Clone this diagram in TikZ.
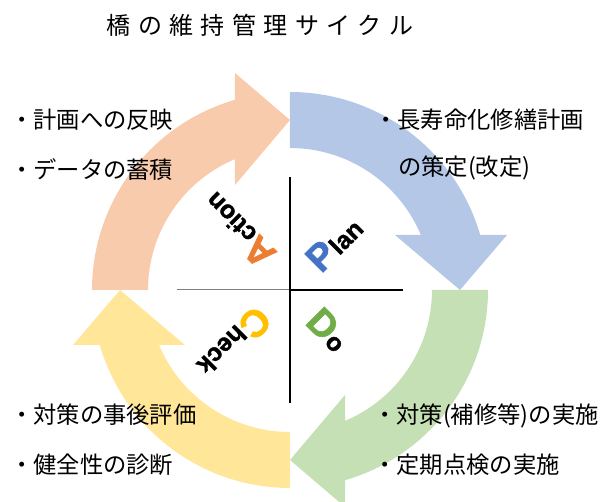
\documentclass[tikz,border=0pt]{standalone}
\usepackage{fontspec}
\newfontfamily\jpfont{Noto Sans CJK JP}
\newfontfamily\latfont[BoldFeatures={FakeBold=1.5}]{Liberation Sans}
\definecolor{arrOrange}{HTML}{F8CBAD}
\definecolor{arrBlue}{HTML}{B4C7E7}
\definecolor{arrGreen}{HTML}{C5E0B4}
\definecolor{arrYellow}{HTML}{FFE699}
\definecolor{letP}{HTML}{4472C4}
\definecolor{letA}{HTML}{ED7D31}
\definecolor{letD}{HTML}{70AD47}
\definecolor{letC}{HTML}{FFC000}
\newcommand\cyclearrow[2]{%
  \begin{scope}[rotate=#1]
    \fill[#2] (90:198) arc[start angle=90, end angle=16.13, radius=198]
      -- (217,55) -- (170,0) -- (105,55) -- (22.79:142)
      arc[start angle=22.79, end angle=90, radius=142] -- cycle;
  \end{scope}}
\begin{document}
\begin{tikzpicture}[x=1pt,y=1pt,
  bodytext/.style={font=\jpfont\fontsize{23.3}{23.3}\selectfont, anchor=base west, inner sep=0pt},
  titletext/.style={font=\jpfont\fontsize{24}{24}\selectfont, inner sep=0pt},
  bigletter/.style={font=\latfont\bfseries\fontsize{38}{38}\selectfont, inner sep=0pt},
  smallletters/.style={font=\latfont\bfseries\fontsize{25}{25}\selectfont, inner sep=0pt, anchor=base west},
  axisline/.style={line width=1.6pt, black},
  axislinegray/.style={line width=1pt, gray}]
\useasboundingbox (-290,-212) rectangle (318,290);
% cycle arrows
\cyclearrow{0}{arrBlue}
\cyclearrow{-90}{arrGreen}
\cyclearrow{-180}{arrYellow}
\cyclearrow{-270}{arrOrange}
% axes
\coordinate (c) at (0,0);
\coordinate (vt) at (0,113);
\coordinate (vb) at (0,-113);
\coordinate (hl) at (-113,0);
\coordinate (hr) at (113,0);
\draw[axislinegray] (hl) -- (c);
\draw[axisline] (c) -- (hr);
\draw[axisline] (vt) -- (vb);
% PDCA letters
\node[bigletter, text=letP, rotate=45] (P) at (31,34) {P};
\node[smallletters, rotate=45] (lan) at (P.base east) {lan};
\node[bigletter, text=letD, rotate=-45] (D) at (33,-34) {D};
\node[smallletters, rotate=-45] (o) at (D.base east) {o};
\node[bigletter, text=letC, rotate=-135] (C) at (-35,-33) {C};
\node[smallletters, rotate=-135] (heck) at (C.base east) {heck};
\node[bigletter, text=letA, rotate=135] (A) at (-31,38) {A};
\node[smallletters, rotate=135] (ction) at (A.base east) {ction};
% title
\node[titletext] (title) at (-30,265) {橋\kern7.4pt の\kern7.4pt 維\kern7.4pt 持\kern7.4pt 管\kern7.4pt 理\kern7.4pt サ\kern7.4pt イ\kern7.4pt ク\kern7.4pt ル};
% texts
\node[bodytext] (a1) at (-280,161) {・計画への反映};
\node[bodytext] (a2) at (-280,111) {・データの蓄積};
\node[bodytext] (p1) at (84,161) {・長寿命化修繕計画};
\node[bodytext] (p2) at (108,114) {の策定(改定)};
\node[bodytext] (c1) at (-280,-134) {・対策の事後評価};
\node[bodytext] (c2) at (-280,-184) {・健全性の診断};
\node[bodytext] (d1) at (83,-134) {・対策(補修等)の実施};
\node[bodytext] (d2) at (83,-184) {・定期点検の実施};
\end{tikzpicture}
\end{document}
